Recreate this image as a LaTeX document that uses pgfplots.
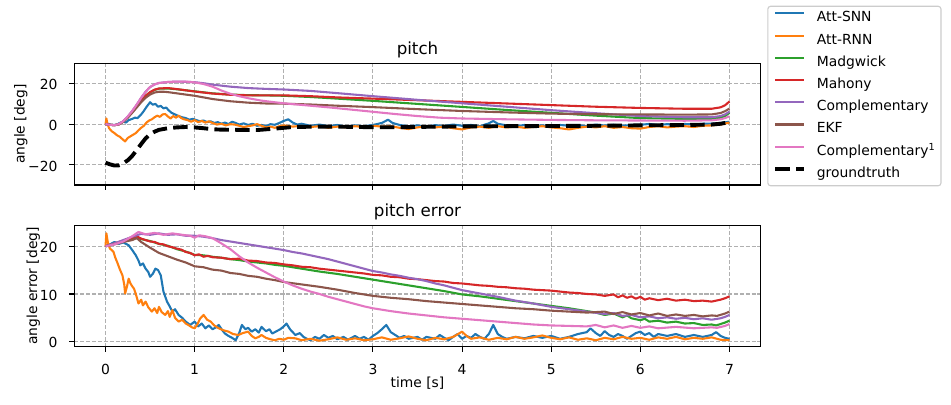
\documentclass[border=0pt]{standalone}
\usepackage{fontspec}
\setmainfont{DejaVu Sans}
\usepackage{pgfplots}
\pgfplotsset{compat=1.18}
\definecolor{C0}{HTML}{1F77B4}
\definecolor{C1}{HTML}{FF7F0E}
\definecolor{C2}{HTML}{2CA02C}
\definecolor{C3}{HTML}{D62728}
\definecolor{C4}{HTML}{9467BD}
\definecolor{C5}{HTML}{8C564B}
\definecolor{C6}{HTML}{E377C2}
\definecolor{gridc}{HTML}{B0B0B0}
\definecolor{legc}{HTML}{CCCCCC}
\pgfplotsset{
  mpl/.style={
    scale only axis, width=494.2bp,
    xmin=-0.35, xmax=7.35,
    xtick={0,1,2,3,4,5,6,7},
    tick align=outside, xtick pos=bottom, ytick pos=left,
    major tick length=3.5bp,
    every tick/.style={black, line width=0.8bp},
    axis line style={black, line width=0.8bp, solid},
    grid=major,
    major grid style={dash pattern=on 2.96bp off 1.28bp, color=gridc, line width=0.8bp},
    tick label style={font=\fontsize{10bp}{12bp}\selectfont},
    xticklabel style={anchor=north, inner sep=0pt, yshift=-8.9bp},
    yticklabel style={anchor=east, inner sep=0pt, xshift=-8.4bp, yshift=-0.9bp},
    /pgf/number format/assume math mode=true,
    label style={font=\fontsize{10bp}{12bp}\selectfont},
    every axis title/.style={at={(0.5,1)}, anchor=base, yshift=6bp, font=\fontsize{12bp}{14bp}\selectfont},
    every axis plot/.append style={line width=1.5bp, line join=round},
  }
}
\begin{document}
\begin{tikzpicture}
\useasboundingbox (0,0) rectangle (684.72bp,291.6bp);
\begin{axis}[mpl,
  name=top, at={(53.5bp,158.4bp)}, anchor=south west,
  height=87.6bp,
  ymin=-30, ymax=30,
  ytick={-20,0,20}, yticklabels={−20,0,20},
  xticklabels={{},{},{},{},{},{},{},{}},
  title={pitch},
  ylabel={angle [deg]},
  every axis y label/.style={at={(axis description cs:-0.0779,0.5)}, rotate=90, anchor=center},
  legend cell align=left,
  legend image code/.code={\path (0bp,0bp); \draw[#1] (0bp,3.5bp) -- (20.5bp,3.5bp);},
  legend style={at={(1.0096,1.4733)}, anchor=north west,
    draw=legc, line width=0.8bp, rounded corners=2bp,
    inner xsep=4bp, inner ysep=3.6bp, row sep=6bp, column sep=8bp,
    font=\fontsize{10bp}{12bp}\selectfont,
    nodes={inner sep=0pt, text height=7.6bp, text depth=2.4bp, anchor=west}},
]
% Att-SNN
\addplot[C0] coordinates {(0,0)(0.03,0.2)(0.06,-0.3)(0.1,-0.4)(0.13,-0.2)(0.16,0.6)(0.2,1.2)(0.23,0.8)(0.26,2.0)(0.3,2.6)(0.33,3.2)(0.36,3.0)(0.4,4.8)(0.43,6.5)(0.46,8.5)(0.5,10.8)(0.53,9.6)(0.56,10.0)(0.59,8.6)(0.62,9.0)(0.65,7.8)(0.68,8.2)(0.71,6.8)(0.74,5.6)(0.78,4.8)(0.82,4.0)(0.86,3.4)(0.9,3.0)(0.94,2.2)(0.98,2.6)(1.02,2.0)(1.06,1.4)(1.1,1.8)(1.14,1.0)(1.18,1.4)(1.22,0.6)(1.26,1.0)(1.3,0.2)(1.34,0.8)(1.38,0.0)(1.42,1.2)(1.46,0.6)(1.5,-0.2)(1.55,0.4)(1.6,-0.4)(1.65,0.2)(1.7,-0.8)(1.75,-0.4)(1.8,-1.0)(1.85,0.0)(1.9,-0.3)(1.95,0.6)(2.0,1.6)(2.05,2.4)(2.1,0.8)(2.15,-0.2)(2.2,0.2)(2.3,-0.8)(2.4,-0.2)(2.5,-1.0)(2.6,-0.4)(2.7,-1.2)(2.8,-0.6)(2.9,-1.0)(3.0,-0.4)(3.1,0.6)(3.17,2.2)(3.22,0.6)(3.3,-0.4)(3.4,-1.0)(3.5,-0.6)(3.6,-1.2)(3.7,-0.5)(3.8,-0.9)(3.9,-0.2)(4.0,-0.8)(4.1,-0.4)(4.2,-1.0)(4.3,0.4)(4.35,1.6)(4.4,0.2)(4.5,-0.6)(4.6,-1.0)(4.7,-0.4)(4.8,-0.9)(4.9,-0.6)(5.0,-1.0)(5.1,-0.4)(5.2,-0.8)(5.3,-0.5)(5.4,-1.0)(5.5,-0.2)(5.6,-0.7)(5.7,-0.3)(5.8,-0.8)(5.9,-0.4)(6.0,-0.3)(6.1,0.1)(6.2,-0.4)(6.3,0.0)(6.4,-0.3)(6.5,0.1)(6.6,-0.2)(6.7,0.2)(6.8,0.3)(6.9,0.6)(7.0,1.2)};
\addlegendentry{Att-SNN}
% Att-RNN
\addplot[C1] coordinates {(0,0)(0.01,2.8)(0.02,0.5)(0.04,-2.0)(0.07,-3.5)(0.1,-4.4)(0.13,-5.5)(0.16,-6.2)(0.19,-7.4)(0.22,-8.5)(0.25,-6.8)(0.28,-6.0)(0.31,-5.2)(0.34,-4.4)(0.37,-3.0)(0.4,-1.8)(0.43,-0.8)(0.46,0.8)(0.49,1.8)(0.52,2.4)(0.55,3.4)(0.58,4.2)(0.61,3.6)(0.64,4.8)(0.67,5.0)(0.7,3.8)(0.73,2.8)(0.76,4.0)(0.79,3.2)(0.82,4.2)(0.85,3.0)(0.88,2.4)(0.92,2.0)(0.96,1.2)(1.0,2.0)(1.04,1.0)(1.08,1.6)(1.12,0.8)(1.16,1.4)(1.2,0.6)(1.25,-0.2)(1.3,0.2)(1.35,-0.6)(1.4,0.0)(1.45,-0.2)(1.5,-0.8)(1.55,-1.4)(1.6,-1.0)(1.65,-0.6)(1.7,0.0)(1.75,-0.8)(1.8,-1.6)(1.85,-1.2)(1.9,-1.8)(1.95,-1.0)(2.0,-0.6)(2.1,-1.2)(2.2,-0.8)(2.3,-1.4)(2.4,-1.0)(2.5,-1.8)(2.6,-1.2)(2.7,-1.6)(2.8,-1.0)(2.9,-1.4)(3.0,-0.8)(3.1,-1.2)(3.2,-1.0)(3.3,-1.8)(3.4,-2.4)(3.5,-1.6)(3.6,-1.0)(3.7,-1.6)(3.8,-1.2)(3.9,-2.0)(4.0,-2.6)(4.1,-1.6)(4.2,-1.2)(4.3,-1.8)(4.4,-1.0)(4.5,-1.6)(4.6,-1.2)(4.7,-1.8)(4.8,-1.4)(4.9,-1.0)(5.0,-1.6)(5.1,-2.0)(5.2,-2.6)(5.3,-1.8)(5.4,-1.2)(5.5,-1.6)(5.6,-1.0)(5.7,-1.8)(5.8,-1.4)(5.9,-2.0)(6.0,-2.2)(6.1,-1.4)(6.2,-1.0)(6.3,-1.6)(6.4,-1.2)(6.5,-1.0)(6.6,-1.4)(6.7,-0.8)(6.8,-0.6)(6.9,-0.2)(7.0,0.8)};
\addlegendentry{Att-RNN}
% Madgwick
\addplot[C2] coordinates {(0,0)(0.05,-0.3)(0.1,-0.5)(0.15,-0.1)(0.2,1.3)(0.25,3.4)(0.3,6.0)(0.35,8.8)(0.4,11.6)(0.45,14.0)(0.5,15.7)(0.55,16.9)(0.6,17.5)(0.7,17.6)(0.8,17.2)(0.9,16.7)(1.0,16.2)(1.2,15.2)(1.4,14.6)(1.6,14.3)(1.8,14.2)(2.0,14.0)(2.3,13.4)(2.6,12.6)(3.0,11.5)(3.5,10.0)(4.0,8.5)(4.5,7.0)(5.0,5.6)(5.5,4.2)(6.0,3.0)(6.5,2.6)(6.8,2.6)(6.9,3.2)(6.95,4.0)(7.0,5.6)};
\addlegendentry{Madgwick}
% Mahony
\addplot[C3] coordinates {(0,0)(0.05,-0.3)(0.1,-0.5)(0.15,-0.1)(0.2,1.3)(0.25,3.4)(0.3,6.0)(0.35,8.8)(0.4,11.6)(0.45,14.0)(0.5,15.8)(0.55,17.0)(0.6,17.6)(0.7,17.8)(0.8,17.3)(0.9,16.7)(1.0,16.1)(1.2,15.1)(1.4,14.5)(1.6,14.2)(1.8,14.2)(2.0,14.2)(2.3,13.8)(2.6,13.2)(3.0,12.6)(3.5,11.8)(4.0,11.0)(4.5,10.2)(5.0,9.4)(5.5,8.6)(6.0,8.0)(6.5,7.6)(6.8,7.6)(6.9,8.3)(6.95,9.3)(7.0,11.2)};
\addlegendentry{Mahony}
% Complementary
\addplot[C4] coordinates {(0,0)(0.05,-0.3)(0.1,-0.5)(0.15,0.0)(0.2,1.5)(0.25,3.8)(0.3,6.5)(0.35,9.6)(0.4,13.0)(0.45,16.0)(0.5,18.3)(0.55,19.6)(0.6,20.3)(0.7,20.8)(0.8,21.0)(0.9,20.9)(1.0,20.7)(1.1,20.2)(1.2,19.5)(1.3,19.0)(1.4,18.5)(1.6,17.8)(1.8,17.4)(2.0,17.1)(2.3,16.4)(2.6,15.3)(3.0,13.8)(3.5,12.0)(4.0,10.3)(4.5,8.6)(5.0,6.9)(5.5,5.4)(6.0,4.0)(6.5,3.4)(6.8,3.4)(6.9,4.0)(6.95,4.8)(7.0,6.2)};
\addlegendentry{Complementary}
% EKF
\addplot[C5] coordinates {(0,0)(0.05,-0.3)(0.1,-0.5)(0.15,-0.1)(0.2,1.2)(0.25,3.2)(0.3,5.6)(0.35,8.2)(0.4,10.8)(0.45,13.0)(0.5,14.6)(0.55,15.6)(0.6,16.0)(0.65,16.0)(0.7,15.8)(0.8,15.2)(0.9,14.6)(1.0,14.0)(1.2,12.4)(1.4,11.3)(1.6,10.6)(1.8,10.2)(2.0,10.1)(2.3,9.7)(2.6,9.1)(3.0,8.4)(3.5,7.4)(4.0,6.5)(4.5,5.8)(5.0,5.2)(5.5,4.9)(6.0,4.8)(6.5,4.7)(6.8,4.8)(6.9,5.5)(6.95,6.4)(7.0,7.7)};
\addlegendentry{EKF}
% Complementary^1
\addplot[C6] coordinates {(0,0)(0.05,-0.3)(0.1,-0.5)(0.15,0.0)(0.2,1.5)(0.25,3.8)(0.3,6.5)(0.35,9.6)(0.4,13.0)(0.45,16.0)(0.5,18.3)(0.55,19.6)(0.6,20.3)(0.7,20.8)(0.8,21.0)(0.9,21.0)(1.0,20.6)(1.1,19.8)(1.2,18.5)(1.3,16.6)(1.4,15.0)(1.5,13.8)(1.6,12.8)(1.75,11.6)(1.9,10.8)(2.0,10.3)(2.2,9.5)(2.5,8.3)(2.75,7.2)(3.0,6.1)(3.25,5.0)(3.5,4.0)(3.75,3.2)(4.0,2.8)(4.5,2.4)(5.0,2.1)(5.5,1.9)(6.0,1.8)(6.5,1.7)(6.8,1.9)(6.9,2.4)(6.95,3.0)(7.0,3.9)};
\addlegendentry{Complementary\textsuperscript{1}}
% groundtruth
\addplot[black, line width=2.8bp, dash pattern=on 10.4bp off 4.5bp] coordinates {(0,-19.0)(0.05,-19.8)(0.1,-20.4)(0.15,-20.3)(0.2,-19.3)(0.25,-17.8)(0.3,-15.6)(0.35,-12.8)(0.4,-9.8)(0.45,-7.0)(0.5,-5.0)(0.55,-3.7)(0.6,-2.8)(0.7,-2.0)(0.8,-1.6)(0.9,-1.4)(1.0,-1.6)(1.1,-2.0)(1.2,-2.5)(1.3,-2.7)(1.5,-2.8)(1.7,-2.9)(1.9,-2.2)(2.1,-1.4)(2.4,-1.2)(2.7,-1.3)(3.0,-1.5)(3.3,-1.5)(3.6,-1.3)(4.0,-1.1)(4.5,-1.0)(5.0,-0.9)(5.5,-0.8)(6.0,-0.6)(6.5,-0.4)(6.8,-0.2)(6.9,0.2)(7.0,1.0)};
\addlegendentry{groundtruth}
\end{axis}
\draw[black, line width=0.8bp, solid] (top.south west) rectangle (top.north east);

\begin{axis}[mpl,
  name=bot, at={(53.5bp,42.0bp)}, anchor=south west,
  height=87.4bp,
  ymin=-1.05, ymax=24.4,
  ytick={0,10,20},
  xticklabels={0,1,2,3,4,5,6,7},
  title={pitch error},
  ylabel={angle error [deg]},
  every axis y label/.style={at={(axis description cs:-0.0597,0.5)}, rotate=90, anchor=center},
  xlabel={time [s]},
  every axis x label/.style={at={(axis description cs:0.5,-0.302)}, anchor=center},
]
\addplot[C0] coordinates {(0,20)(0.05,20.4)(0.1,20.9)(0.15,20.5)(0.2,20.8)(0.26,20.2)(0.3,19.2)(0.34,18.1)(0.37,17.0)(0.39,16.0)(0.42,16.4)(0.45,15.3)(0.48,14.6)(0.5,13.6)(0.53,14.2)(0.56,15.3)(0.59,15.0)(0.62,13.9)(0.65,10.5)(0.69,8.4)(0.72,7.4)(0.75,6.3)(0.78,6.8)(0.82,5.6)(0.86,5.0)(0.9,4.2)(0.95,3.5)(1.0,4.2)(1.04,3.2)(1.08,3.8)(1.12,2.8)(1.16,3.4)(1.2,2.6)(1.24,3.0)(1.27,3.5)(1.31,2.4)(1.34,1.7)(1.38,1.2)(1.42,0.8)(1.46,0.3)(1.5,1.8)(1.53,3.5)(1.57,2.6)(1.6,2.9)(1.64,2.1)(1.68,2.6)(1.72,1.9)(1.75,3.1)(1.8,2.2)(1.84,2.6)(1.87,1.7)(1.92,2.2)(1.96,2.6)(2.0,3.2)(2.03,3.8)(2.07,2.6)(2.1,2.0)(2.13,1.4)(2.18,1.8)(2.22,1.0)(2.26,0.6)(2.3,0.3)(2.35,1.0)(2.4,0.6)(2.45,1.4)(2.5,0.8)(2.55,1.2)(2.6,0.5)(2.67,1.0)(2.72,0.4)(2.8,1.2)(2.85,0.6)(2.9,1.0)(2.95,0.4)(3.0,1.2)(3.05,1.8)(3.1,2.6)(3.15,3.5)(3.2,2.0)(3.25,1.4)(3.3,0.8)(3.35,1.2)(3.4,0.6)(3.5,1.0)(3.55,0.4)(3.6,1.0)(3.7,0.6)(3.75,1.4)(3.8,0.8)(3.85,0.3)(3.9,1.0)(3.95,1.6)(4.0,0.6)(4.05,1.2)(4.1,0.8)(4.15,1.6)(4.2,1.0)(4.25,0.6)(4.3,1.6)(4.35,3.5)(4.4,1.6)(4.45,1.0)(4.5,0.6)(4.6,1.0)(4.7,0.7)(4.8,1.2)(4.9,0.8)(5.0,1.2)(5.1,0.6)(5.2,1.0)(5.3,1.6)(5.4,2.0)(5.44,2.8)(5.5,1.8)(5.55,1.2)(5.6,2.2)(5.65,1.4)(5.7,1.0)(5.75,1.6)(5.8,1.2)(5.85,0.6)(5.9,1.2)(5.95,1.8)(6.0,2.1)(6.05,1.4)(6.1,1.8)(6.15,1.0)(6.2,1.6)(6.3,1.2)(6.4,1.6)(6.5,1.0)(6.6,1.4)(6.7,1.0)(6.8,1.4)(6.85,2.0)(6.9,1.2)(6.95,0.8)(7.0,0.6)};
\addplot[C1] coordinates {(0,20)(0.01,22.7)(0.02,21.5)(0.03,20.5)(0.05,19.5)(0.07,19.2)(0.09,18.8)(0.11,17.6)(0.13,16.7)(0.16,15.2)(0.19,13.9)(0.21,12.0)(0.22,10.1)(0.24,11.5)(0.26,13.2)(0.28,12.2)(0.3,11.6)(0.32,11.1)(0.34,10.0)(0.37,8.0)(0.4,8.8)(0.42,7.6)(0.45,8.4)(0.48,7.2)(0.52,6.3)(0.55,7.0)(0.58,6.0)(0.6,7.3)(0.63,6.2)(0.67,5.6)(0.7,6.4)(0.72,5.2)(0.75,6.6)(0.78,5.0)(0.82,4.2)(0.86,4.6)(0.9,3.8)(0.93,3.5)(0.97,3.0)(1.0,2.8)(1.03,3.6)(1.06,4.8)(1.1,5.6)(1.14,4.6)(1.18,4.2)(1.22,3.4)(1.27,2.8)(1.32,2.4)(1.38,2.1)(1.43,1.6)(1.49,1.4)(1.54,1.8)(1.6,2.1)(1.64,1.2)(1.68,0.7)(1.72,1.0)(1.75,1.4)(1.8,0.8)(1.85,0.5)(1.9,0.3)(1.95,0.6)(2.0,0.4)(2.05,0.8)(2.13,0.7)(2.2,0.3)(2.3,0.6)(2.4,0.2)(2.5,0.5)(2.6,0.9)(2.7,0.4)(2.8,0.7)(2.9,0.3)(3.0,0.5)(3.1,0.9)(3.2,0.4)(3.3,0.7)(3.4,1.1)(3.5,0.6)(3.6,0.3)(3.7,0.8)(3.8,0.5)(3.9,1.0)(4.0,2.1)(4.05,1.2)(4.1,0.6)(4.2,0.9)(4.3,0.4)(4.4,0.8)(4.5,0.5)(4.6,1.0)(4.7,0.6)(4.8,0.9)(4.9,1.3)(5.0,0.8)(5.1,0.5)(5.2,0.9)(5.3,0.4)(5.4,0.7)(5.5,0.3)(5.6,0.8)(5.7,0.5)(5.8,1.0)(5.9,0.6)(6.0,0.8)(6.1,0.4)(6.2,0.9)(6.3,0.6)(6.4,1.0)(6.5,0.5)(6.6,0.8)(6.7,0.6)(6.8,0.9)(6.9,0.4)(7.0,0.3)};
\addplot[C2] coordinates {(0,20.0)(0.1,20.5)(0.2,21.0)(0.3,21.6)(0.35,21.9)(0.4,21.5)(0.5,21.1)(0.6,20.5)(0.7,20.1)(0.8,19.4)(0.9,18.9)(1.0,18.2)(1.1,18.1)(1.2,17.8)(1.3,17.6)(1.4,17.3)(1.5,17.1)(1.6,16.8)(1.7,16.6)(1.8,16.4)(1.9,16.1)(2.0,15.9)(2.2,15.3)(2.4,14.7)(2.6,14.2)(2.8,13.6)(3.0,13.0)(3.2,12.4)(3.4,11.8)(3.6,11.2)(3.8,10.6)(4.0,9.9)(4.2,9.5)(4.4,9.0)(4.6,8.5)(4.8,8.0)(5.0,7.5)(5.2,7.0)(5.4,6.4)(5.5,6.1)(5.6,5.6)(5.7,5.9)(5.8,5.1)(5.85,5.5)(5.9,4.9)(6.0,4.5)(6.05,4.8)(6.1,4.2)(6.2,4.4)(6.3,4.0)(6.4,4.2)(6.5,3.8)(6.6,3.9)(6.7,3.5)(6.8,3.6)(6.85,3.4)(6.9,3.7)(6.95,4.0)(7.0,4.4)};
\addplot[C3] coordinates {(0,20.0)(0.05,20.3)(0.1,20.6)(0.15,20.9)(0.2,21.2)(0.25,21.5)(0.3,21.8)(0.35,22.1)(0.4,21.6)(0.45,21.3)(0.5,21.0)(0.55,20.9)(0.6,20.5)(0.65,20.4)(0.7,20.0)(0.75,19.8)(0.8,19.5)(0.85,19.3)(0.9,18.8)(0.95,18.6)(1.0,18.1)(1.05,18.3)(1.1,17.8)(1.15,18.0)(1.2,17.7)(1.3,17.6)(1.4,17.3)(1.5,17.4)(1.6,17.0)(1.7,16.9)(1.8,16.6)(1.9,16.5)(2.0,16.2)(2.1,16.0)(2.2,15.7)(2.3,15.6)(2.4,15.3)(2.5,15.1)(2.6,14.9)(2.7,14.7)(2.8,14.5)(2.9,14.3)(3.0,14.0)(3.1,13.9)(3.2,13.6)(3.3,13.5)(3.4,13.2)(3.5,13.1)(3.6,12.9)(3.7,12.7)(3.8,12.6)(3.9,12.3)(4.0,12.2)(4.1,12.0)(4.2,11.8)(4.3,11.7)(4.4,11.5)(4.5,11.4)(4.6,11.2)(4.7,11.1)(4.8,10.9)(4.9,10.8)(5.0,10.7)(5.1,10.5)(5.2,10.3)(5.3,10.2)(5.4,10.0)(5.5,9.9)(5.6,9.6)(5.7,9.9)(5.75,9.3)(5.8,9.7)(5.85,9.2)(5.9,9.5)(5.95,9.0)(6.0,9.4)(6.05,8.8)(6.1,9.1)(6.2,8.7)(6.3,9.0)(6.4,8.6)(6.5,8.8)(6.6,8.5)(6.7,8.6)(6.8,8.4)(6.85,8.6)(6.9,8.8)(6.95,9.1)(7.0,9.5)};
\addplot[C4] coordinates {(0,20.0)(0.1,20.6)(0.2,21.3)(0.3,22.0)(0.4,22.6)(0.5,22.4)(0.6,22.7)(0.7,22.4)(0.8,22.5)(0.9,22.2)(1.0,22.2)(1.1,22.0)(1.2,21.7)(1.3,21.3)(1.4,21.0)(1.5,20.7)(1.6,20.4)(1.7,20.1)(1.8,19.8)(1.9,19.5)(2.0,19.2)(2.1,18.8)(2.2,18.5)(2.3,18.1)(2.4,17.7)(2.5,17.3)(2.6,16.8)(2.7,16.3)(2.8,15.8)(2.9,15.3)(3.0,14.8)(3.1,14.5)(3.2,14.1)(3.3,13.8)(3.4,13.4)(3.5,13.1)(3.6,12.7)(3.7,12.2)(3.8,11.8)(3.9,11.3)(4.0,10.8)(4.2,10.1)(4.4,9.4)(4.6,8.6)(4.8,8.0)(5.0,7.3)(5.2,6.8)(5.4,6.3)(5.6,5.8)(5.7,6.0)(5.8,5.4)(5.9,5.6)(6.0,5.1)(6.1,5.3)(6.2,4.9)(6.3,5.1)(6.4,4.8)(6.5,5.0)(6.6,4.7)(6.7,4.9)(6.8,4.6)(6.9,4.9)(6.95,5.2)(7.0,5.6)};
\addplot[C5] coordinates {(0,20.0)(0.1,20.4)(0.2,20.9)(0.3,21.3)(0.35,21.7)(0.4,20.9)(0.5,19.7)(0.6,18.6)(0.7,17.9)(0.8,17.2)(0.9,16.6)(1.0,15.8)(1.1,15.6)(1.2,15.1)(1.3,14.9)(1.4,14.4)(1.5,14.2)(1.6,13.8)(1.7,13.6)(1.8,13.2)(1.9,12.9)(2.0,12.5)(2.2,12.0)(2.4,11.5)(2.6,10.9)(2.8,10.2)(3.0,9.6)(3.2,9.2)(3.4,8.9)(3.6,8.5)(3.8,8.2)(4.0,7.9)(4.2,7.6)(4.4,7.3)(4.6,7.0)(4.8,6.8)(5.0,6.5)(5.2,6.3)(5.4,6.1)(5.6,6.3)(5.7,5.8)(5.8,6.2)(5.9,5.7)(6.0,6.0)(6.1,5.5)(6.2,5.9)(6.3,5.4)(6.4,5.7)(6.5,5.4)(6.6,5.6)(6.7,5.3)(6.8,5.5)(6.86,5.4)(6.95,5.9)(7.0,6.3)};
\addplot[C6] coordinates {(0,20.0)(0.1,20.4)(0.2,21.0)(0.3,22.1)(0.37,23.0)(0.45,22.5)(0.55,22.8)(0.65,22.4)(0.75,22.7)(0.86,22.4)(0.95,22.2)(1.0,21.8)(1.05,22.3)(1.12,22.1)(1.2,21.7)(1.3,20.6)(1.4,19.4)(1.5,17.9)(1.6,16.6)(1.7,15.5)(1.8,14.5)(1.9,13.5)(2.0,12.6)(2.1,11.8)(2.2,11.1)(2.3,10.5)(2.4,10.0)(2.5,9.4)(2.6,8.9)(2.7,8.4)(2.8,7.9)(2.9,7.4)(3.0,7.0)(3.2,6.4)(3.4,5.9)(3.6,5.5)(3.8,5.1)(4.0,4.8)(4.2,4.5)(4.4,4.2)(4.6,3.9)(4.8,3.6)(5.0,3.4)(5.2,3.3)(5.4,3.2)(5.5,3.5)(5.6,3.0)(5.7,3.4)(5.8,2.9)(5.9,3.3)(6.0,2.9)(6.1,3.2)(6.2,2.8)(6.4,3.1)(6.6,2.8)(6.8,3.0)(6.86,2.9)(6.95,3.3)(7.0,3.7)};
\end{axis}
\end{tikzpicture}
\end{document}
